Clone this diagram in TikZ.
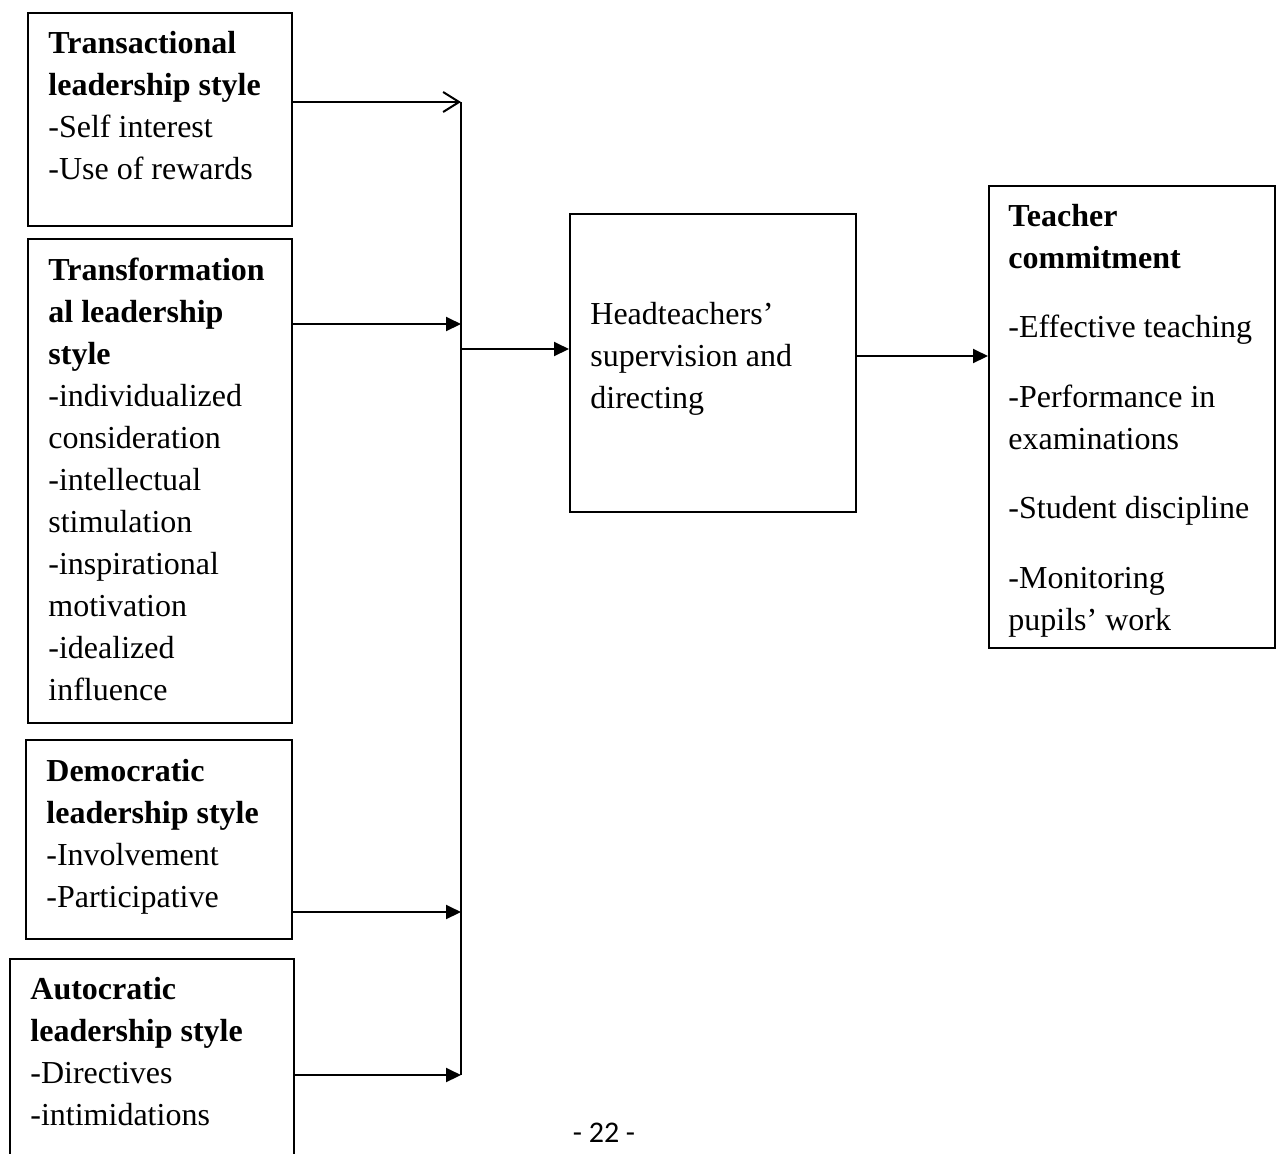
\documentclass[tikz,border=0pt]{standalone}
\usepackage{fontspec}
\setmainfont{Liberation Serif}
\newfontfamily\pagefont{Carlito}
\usetikzlibrary{arrows.meta}
\begin{document}
\begin{tikzpicture}[x=0.5pt,y=-0.5pt,
  box/.style={draw, line width=1pt, inner sep=0pt, anchor=north west},
  txt/.style={anchor=north west, inner sep=0pt, align=left, font=\fontsize{16}{21}\selectfont},
  conn/.style={line width=1pt},
  solidarr/.style={conn, -{Triangle[length=7.5pt,width=7pt]}},
  openarr/.style={conn, -{Straight Barb[length=8pt,width=10pt,line width=1pt]}}
]
\useasboundingbox (0,0) rectangle (1280,1153);
\fill[white] (0,0) rectangle (1280,1153);

% boxes
\node[box, minimum width=132pt, minimum height=106.5pt] (b1) at (27,12) {};
\node[box, minimum width=132pt, minimum height=242pt] (b2) at (27,238) {};
\node[box, minimum width=133pt, minimum height=99.5pt] (b3) at (25,739) {};
\node[box, minimum width=142pt, minimum height=110pt] (b4) at (9,958) {};
\node[box, minimum width=143pt, minimum height=149pt] (b5) at (569,213) {};
\node[box, minimum width=143pt, minimum height=231pt] (b6) at (988,185) {};

% texts
\node[txt] (t1) at (48,23) {\rule{0pt}{15pt}\textbf{Transactional}\\\textbf{leadership style}\\-Self interest\\-Use of rewards};
\node[txt] (t2) at (48,250) {\rule{0pt}{15pt}\textbf{Transformation}\\\textbf{al leadership}\\\textbf{style}\\-individualized\\consideration\\-intellectual\\stimulation\\-inspirational\\motivation\\-idealized\\influence};
\node[txt] (t3) at (46,751) {\rule{0pt}{15pt}\textbf{Democratic}\\\textbf{leadership style}\\-Involvement\\-Participative};
\node[txt] (t4) at (30,969) {\rule{0pt}{15pt}\textbf{Autocratic}\\\textbf{leadership style}\\-Directives\\-intimidations};
\node[txt] (t5) at (590,294) {\rule{0pt}{15pt}Headteachers’\\supervision and\\directing};
\node[txt] (t6) at (1008,196) {\rule{0pt}{15pt}\textbf{Teacher}\\\textbf{commitment}\\[13.75pt]-Effective teaching\\[13.75pt]-Performance in\\examinations\\[13.75pt]-Student discipline\\[13.75pt]-Monitoring\\pupils’ work};

% bus coordinates
\coordinate (j1) at (461,102);
\coordinate (j2) at (461,324);
\coordinate (j3) at (461,912);
\coordinate (j4) at (461,1075);
\coordinate (jo) at (461,349);
\coordinate (k) at (900,356);

% connectors
\draw[conn] (j1) -- (j4);
\draw[openarr] (b1.east |- j1) -- (j1);
\draw[solidarr] (b2.east |- j2) -- (j2);
\draw[solidarr] (b3.east |- j3) -- (j3);
\draw[solidarr] (b4.east |- j4) -- (j4);
\draw[solidarr] (jo) -- (b5.west |- jo);
\draw[solidarr] (b5.east |- k) -- (b6.west |- k);

% page number
\node[font=\pagefont\fontsize{15}{18}\selectfont, anchor=base, inner sep=0pt] (pg) at (604,1142) {- 22 -};
\end{tikzpicture}
\end{document}
